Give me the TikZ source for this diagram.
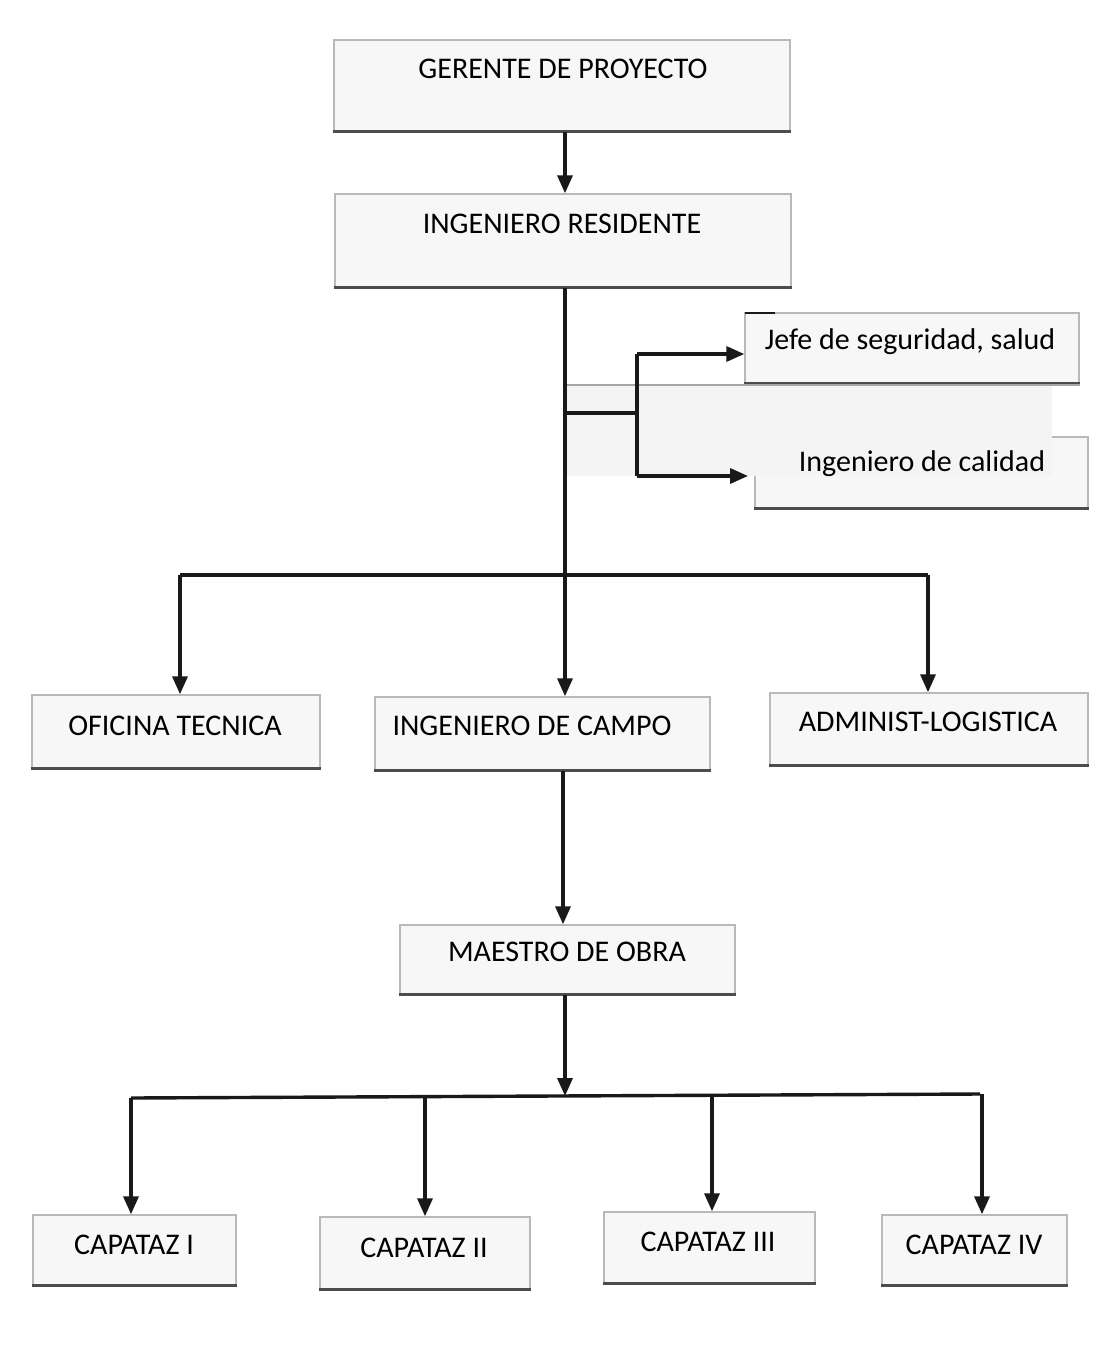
\documentclass[tikz,border=0pt]{standalone}
\usepackage{fontspec}
\setmainfont{Carlito}
\usetikzlibrary{arrows.meta}
\tikzset{
  box/.style={rectangle, draw=gray!55, fill=gray!6, line width=1.4pt, inner sep=0pt},
  boxbottom/.style={draw=gray!60!black, line width=3pt},
  lbl/.style={inner sep=0pt, font=\fontsize{30}{36}\selectfont, text=black},
  conn/.style={draw=black!90, line width=3.4pt},
  arr/.style={conn, -{Triangle[length=18pt,width=15pt]}},
  shade/.style={fill=gray!9, draw=none}
}
\newcommand\mkframe[5]{%
  \node[box, minimum width={(#4-#2)*1pt}, minimum height={(#5-#3)*1pt}] (#1) at ({(#2+#4)/2},{(#3+#5)/2}) {};
  \draw[boxbottom] (#1.south west) -- (#1.south east);
}
\newcommand\mkbox[8]{%
  \mkframe{#1}{#2}{#3}{#4}{#5}
  \node[lbl] (#1t) at (#6,#7) {#8};
}
\begin{document}
\begin{tikzpicture}[x=1pt,y=-1pt]
\useasboundingbox[fill=white] (0,0) rectangle (1094,1356);

% boxes
\mkbox{ger}{334}{40}{790}{131}{563}{69}{GERENTE DE PROYECTO}
\mkbox{res}{335}{194}{791}{287}{562}{224}{INGENIERO RESIDENTE}
\mkframe{jef}{745}{313}{1079}{383}
\mkframe{cal}{755}{437}{1088}{508}
% scan artefact band
\fill[shade] (566,386) rectangle (1052,476);
\draw[draw=gray!70, line width=1.8pt] (566,385) -- (1080,385);
\node[lbl] (jeft) at (910,342) {Jefe de seguridad, salud};
\node[lbl] (calt) at (922,464) {Ingeniero de calidad};

\mkbox{ofi}{32}{695}{320}{768}{175}{726}{OFICINA TECNICA}
\mkbox{cam}{375}{697}{710}{770}{532}{726}{INGENIERO DE CAMPO}
\mkbox{adm}{770}{693}{1088}{765}{928}{722}{ADMINIST-LOGISTICA}
\mkbox{mae}{400}{925}{735}{994}{567}{952}{MAESTRO DE OBRA}
\mkbox{c1}{33}{1215}{236}{1285}{134}{1245}{CAPATAZ I}
\mkbox{c2}{320}{1217}{530}{1289}{424}{1248}{CAPATAZ II}
\mkbox{c3}{604}{1212}{815}{1283}{708}{1242}{CAPATAZ III}
\mkbox{c4}{882}{1215}{1067}{1285}{974}{1245}{CAPATAZ IV}

% connectors
\draw[arr] (ger.south -| 565,0) -- (res.north -| 565,0);
\draw[arr] (res.south -| 565,0) -- (cam.north -| 565,0);

% side branch
\coordinate (sb) at (565,413);
\coordinate (sv) at (637,413);
\draw[conn] (sb) -- (sv);
\draw[conn] (637,354) -- (637,476);
\draw[arr] (637,354) -- (jef.west |- 0,354);
\draw[arr] (637,476) -- (748,476);
\draw[conn, line width=2.2pt] (745,313) -- (775,313);

% middle bus
\coordinate (bl) at (180,575);
\coordinate (br) at (928,575);
\draw[conn] (bl) -- (br);
\draw[arr] (bl) -- (ofi.north -| bl);
\draw[arr] (br) -- (adm.north -| br);

\draw[arr] (cam.south -| 563,0) -- (mae.north -| 563,0);

% bottom bus
\coordinate (ml) at (131,1098);
\coordinate (mr) at (980,1094);
\draw[arr] (mae.south -| 565,0) -- (565,1096);
\draw[conn] (ml) -- (mr);
\draw[arr] (ml) -- (c1.north -| ml);
\draw[arr] (425,1097) -- (c2.north -| 425,0);
\draw[arr] (712,1095) -- (c3.north -| 712,0);
\draw[arr] (982,1094) -- (c4.north -| 982,0);
\end{tikzpicture}
\end{document}
